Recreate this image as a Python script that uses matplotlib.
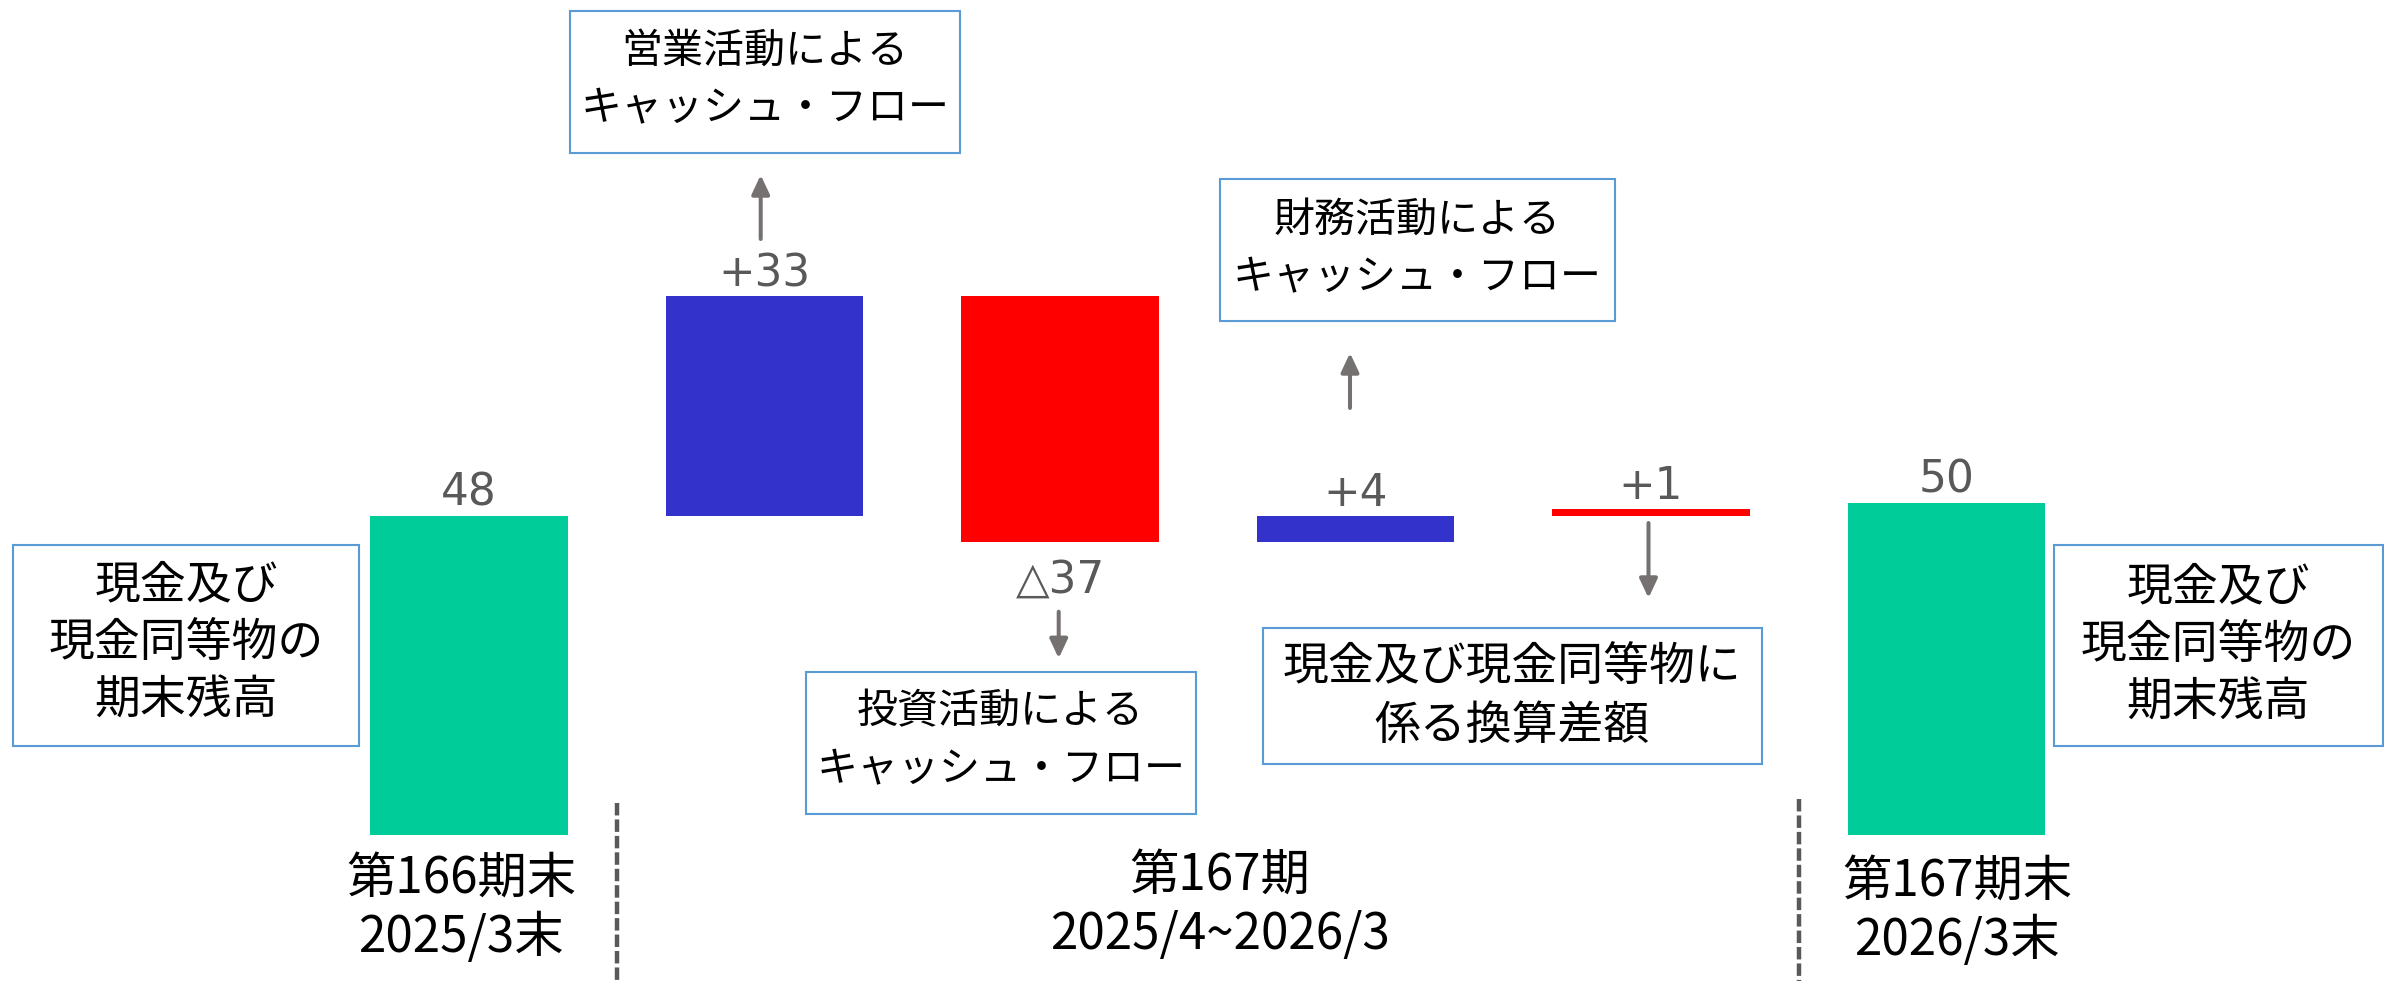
import matplotlib
matplotlib.use('Agg')
import matplotlib.pyplot as plt
from matplotlib.patches import Rectangle, FancyArrowPatch
import numpy as np

plt.rcParams['font.family'] = ['Noto Sans CJK JP', 'DejaVu Sans']

# ---------------- data ----------------
categories = ['第166期末', '営業活動', '投資活動', '財務活動', '換算差額', '第167期末']
start_balance = 48
changes = [33, -37, 4, 1]
end_balance = 50
value_labels = ['48', '+33', '△37', '+4', '+1', '50']

box_texts = [
    '現金及び\n現金同等物の\n期末残高',
    '営業活動による\nキャッシュ・フロー',
    '投資活動による\nキャッシュ・フロー',
    '財務活動による\nキャッシュ・フロー',
    '現金及び現金同等物に\n係る換算差額',
    '現金及び\n現金同等物の\n期末残高',
]
period_labels = ['第166期末\n2025/3末', '第167期\n2025/4~2026/3', '第167期末\n2026/3末']

# ---------------- styles ----------------
bar_colors = ['#00CC99', '#3333CC', '#FF0000', '#3333CC', '#FF0000', '#00CC99']
label_color = '#595959'
box_edge = '#5B9BD5'
arrow_color = '#767171'

W, H = 2384, 981
fig = plt.figure(figsize=(W / 100, H / 100), dpi=100)
ax = fig.add_axes([0, 0, 1, 1])
ax.set_axis_off()

# layout: pixel mapping of category axis and value axis
x0_px, step_px = 469, 295.5
base_px, unit_px = 835, 6.65
ax.set_xlim(-x0_px / step_px, (W - x0_px) / step_px)
ax.set_ylim(-(H - base_px) / unit_px, base_px / unit_px)

# waterfall bottoms/heights
bottoms = [0]
heights = [start_balance]
running = start_balance
for c in changes:
    bottoms.append(running if c > 0 else running + c)
    heights.append(abs(c))
    running += c
bottoms.append(0)
heights.append(end_balance)

x = np.arange(len(categories))
ax.bar(x, heights, bottom=bottoms, width=0.667, color=bar_colors, edgecolor='none')

# value labels
for i, (b, h, lab) in enumerate(zip(bottoms, heights, value_labels)):
    is_neg = (1 <= i <= len(changes)) and changes[i - 1] < 0
    if is_neg:
        ax.annotate(lab, xy=(i, b), xytext=(0, -36), textcoords='offset points',
                    ha='center', va='baseline', fontsize=31.5, color=label_color,
                    family='DejaVu Sans')
    else:
        ax.annotate(lab, xy=(i, b + h), xytext=(0, 7.2), textcoords='offset points',
                    ha='center', va='baseline', fontsize=31.5, color=label_color,
                    family='DejaVu Sans')


def fx(px):
    return px / W


def fy(py):
    return 1 - py / H


def draw_lines(text, cx, cy, spacing, fs):
    lines = text.split('\n')
    n = len(lines)
    for k, line in enumerate(lines):
        yy = cy + (k - (n - 1) / 2) * spacing
        fig.text(fx(cx), fy(yy), line, ha='center', va='center', fontsize=fs,
                 color='black')


# annotation boxes: (left, top, right, bottom) in px, text centre y, spacing, font size
box_geom = [
    ((13.4, 544.8, 359.4, 746.4), 643, 57.5, 33),
    ((570, 10.7, 959.8, 152.8), 80, 58, 29.5),
    ((805.5, 672, 1195.8, 814), 741, 58, 29.5),
    ((1220, 179, 1615, 321), 249, 58, 29.5),
    ((1262.8, 627.7, 1762, 764), 696.5, 59, 33),
    ((2054, 545, 2382.5, 746), 644.5, 57.5, 33),
]
for ((l, t, r, b), cy, sp, fs), txt in zip(box_geom, box_texts):
    fig.patches.append(Rectangle((fx(l), fy(b)), fx(r) - fx(l), fy(t) - fy(b),
                                 transform=fig.transFigure, fill=False,
                                 edgecolor=box_edge, linewidth=1.5))
    draw_lines(txt, (l + r) / 2, cy, sp, fs)

# period labels
period_pos = [(461, 908.5), (1220, 905), (1957, 911)]
for (cx, cy), txt in zip(period_pos, period_labels):
    draw_lines(txt, cx, cy, 59.5, 35.5)

# arrows (px): (x, y_start, y_end)
arrows = [(760.7, 239, 175), (1058.7, 611.7, 658.3), (1350, 408, 353), (1648.5, 523, 598)]
for xa, ys, ye in arrows:
    fig.patches.append(FancyArrowPatch((fx(xa), fy(ys)), (fx(xa), fy(ye)),
                                       transform=fig.transFigure,
                                       arrowstyle='-|>,head_length=11.5,head_width=5.4',
                                       color=arrow_color, linewidth=2.9,
                                       shrinkA=0, shrinkB=0, mutation_scale=1))

# dashed separators between period groups
for xs, ytop in [(0.5, 803), (4.5, 799)]:
    ax.plot([xs, xs], [(base_px - ytop) / unit_px, -(H - base_px) / unit_px],
            color='#595959', linewidth=3.2, dashes=(2.8, 0.9), solid_capstyle='butt',
            dash_capstyle='butt')

fig.savefig('out.png', dpi=100)
